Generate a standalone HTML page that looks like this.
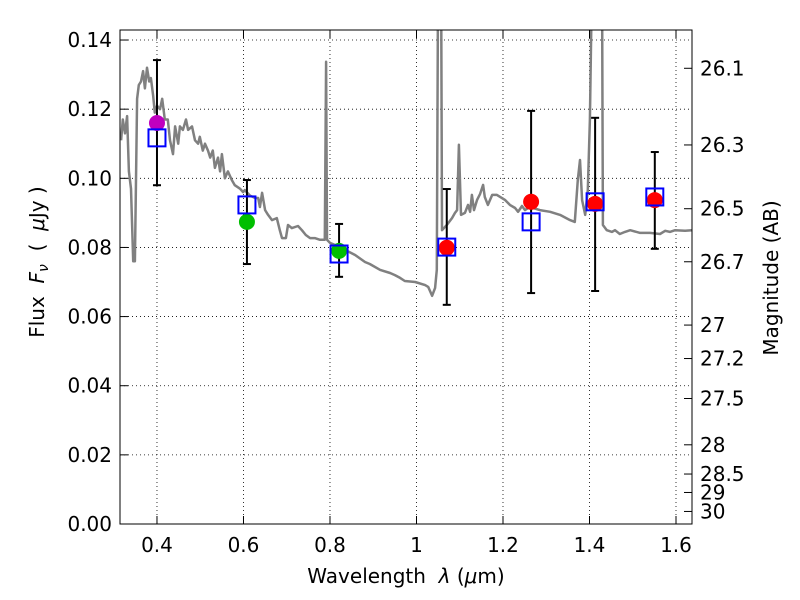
<!DOCTYPE html>
<html><head><meta charset="utf-8"><style>body{margin:0;background:#fff}svg{display:block;font-family:"DejaVu Sans","Liberation Sans",sans-serif}</style></head>
<body>
<svg id="chart" width="800" height="600" xmlns="http://www.w3.org/2000/svg">
<defs><clipPath id="clip"><rect x="120" y="30" width="572" height="494"/></clipPath></defs>
<rect x="0" y="0" width="800" height="600" fill="#fff"/>
<g id="grid"></g>
<g id="spec" clip-path="url(#clip)"></g>
<g id="phot"></g>
<rect x="120" y="30" width="572" height="494" fill="none" stroke="#000" stroke-width="1"/>
<g id="axes"></g>
<text x="406" y="583" font-size="20" text-anchor="middle" xml:space="preserve">Wavelength  <tspan font-style="italic">λ</tspan> (<tspan font-style="italic">μ</tspan>m)</text>
<text transform="translate(44,262) rotate(-90)" font-size="20" text-anchor="middle" xml:space="preserve">Flux  <tspan font-style="italic">F</tspan><tspan font-style="italic" font-size="14" dy="4">ν</tspan><tspan dy="-4">  (  </tspan><tspan font-style="italic">μ</tspan>Jy )</text>
<text transform="translate(778,278) rotate(-90)" font-size="20" text-anchor="middle">Magnitude (AB)</text>
</svg>
<script>
const specLam=[0.317,0.321,0.326,0.331,0.335,0.340,0.345,0.349,0.354,0.358,0.363,0.368,0.372,0.377,0.382,0.386,0.391,0.395,0.400,0.407,0.412,0.418,0.425,0.430,0.437,0.442,0.449,0.453,0.460,0.467,0.472,0.481,0.488,0.495,0.499,0.506,0.511,0.518,0.523,0.529,0.534,0.541,0.546,0.550,0.557,0.564,0.573,0.580,0.592,0.599,0.603,0.615,0.627,0.634,0.638,0.643,0.650,0.657,0.666,0.677,0.684,0.689,0.698,0.703,0.712,0.726,0.735,0.744,0.754,0.765,0.777,0.781,0.788,0.791,0.793,0.800,0.812,0.835,0.858,0.881,0.892,0.916,0.939,0.950,0.962,0.973,0.997,1.020,1.027,1.036,1.043,1.047,1.050,1.057,1.059,1.070,1.082,1.089,1.094,1.098,1.103,1.112,1.119,1.124,1.128,1.133,1.140,1.147,1.154,1.158,1.165,1.175,1.186,1.205,1.216,1.228,1.235,1.244,1.251,1.262,1.285,1.309,1.332,1.355,1.366,1.373,1.378,1.383,1.390,1.396,1.401,1.406,1.429,1.431,1.440,1.452,1.459,1.470,1.482,1.494,1.517,1.540,1.563,1.575,1.586,1.598,1.621,1.637];
const specFlux=[0.111,0.117,0.113,0.118,0.102,0.097,0.076,0.076,0.123,0.127,0.128,0.131,0.126,0.132,0.128,0.129,0.124,0.119,0.121,0.120,0.123,0.117,0.117,0.111,0.107,0.115,0.110,0.115,0.114,0.117,0.114,0.115,0.111,0.110,0.112,0.108,0.110,0.108,0.106,0.108,0.103,0.106,0.102,0.107,0.100,0.102,0.0995,0.098,0.097,0.096,0.0966,0.095,0.0943,0.0943,0.0917,0.0958,0.0908,0.0894,0.0879,0.0885,0.085,0.0827,0.0827,0.0865,0.0856,0.0862,0.085,0.0836,0.0827,0.0827,0.0822,0.0822,0.0822,0.1337,0.0822,0.0813,0.0807,0.0793,0.0778,0.0758,0.0752,0.0735,0.0726,0.072,0.0712,0.0703,0.070,0.0691,0.0686,0.066,0.0683,0.0735,0.16,0.16,0.085,0.0865,0.0885,0.090,0.0908,0.1097,0.0894,0.090,0.0923,0.0903,0.0952,0.0908,0.0937,0.0955,0.0981,0.0946,0.0923,0.0952,0.0952,0.0937,0.0923,0.0914,0.0903,0.092,0.0908,0.0917,0.0908,0.0903,0.0894,0.0879,0.0874,0.0995,0.1053,0.0937,0.0894,0.0966,0.117,0.16,0.16,0.0865,0.085,0.0845,0.085,0.0839,0.0845,0.085,0.0842,0.0842,0.0839,0.0848,0.0845,0.085,0.0848,0.085];
const photLam=[0.400,0.608,0.821,1.070,1.265,1.413,1.551];
const photFlux=[0.116,0.0874,0.079,0.0799,0.0932,0.0926,0.0937];
const photColor=["#bf00bf","#00bf00","#00bf00","#ff0000","#ff0000","#ff0000","#ff0000"];
const modelFlux=[0.1117,0.0923,0.0781,0.0801,0.0874,0.0932,0.0946];
const errHi=[0.1342,0.0995,0.0868,0.0969,0.1195,0.1175,0.1076];
const errLo=[0.098,0.0752,0.0715,0.0634,0.0668,0.0674,0.0796];
const xTicks=[0.4,0.6,0.8,1.0,1.2,1.4,1.6];
const xTickLabels=["0.4","0.6","0.8","1","1.2","1.4","1.6"];
const yTicks=[0,0.02,0.04,0.06,0.08,0.10,0.12,0.14];
const yTickLabels=["0.00","0.02","0.04","0.06","0.08","0.10","0.12","0.14"];
const magTicks=[26.1,26.3,26.5,26.7,27,27.2,27.5,28,28.5,29,30];

const NS="http://www.w3.org/2000/svg";
const X0=120,X1=692,Y0=524,Y1=30,LMIN=0.3145,LMAX=1.637,FMIN=0,FMAX=0.1429;
const xs=v=>X0+(v-LMIN)/(LMAX-LMIN)*(X1-X0);
const ys=v=>Y0-(v-FMIN)/(FMAX-FMIN)*(Y0-Y1);
const magToFlux=m=>Math.pow(10,-0.4*(m-23.9));
function mk(tag,attrs,parent){const e=document.createElementNS(NS,tag);for(const k in attrs)e.setAttribute(k,attrs[k]);parent.appendChild(e);return e;}
const grid=document.getElementById('grid'),spec=document.getElementById('spec'),phot=document.getElementById('phot'),axes=document.getElementById('axes');

xTicks.forEach((t,i)=>{const x=xs(t);
 let g=mk('line',{x1:x,x2:x,y1:Y1,y2:Y0,stroke:'#000','stroke-width':0.8,'stroke-dasharray':'1,3'},grid);
 
 
 let a=mk('line',{x1:x,x2:x,y1:Y0,y2:Y0-8,stroke:'#000'},axes);
 
 
 let b=mk('line',{x1:x,x2:x,y1:Y1,y2:Y1+8,stroke:'#000'},axes);
 
 
 let t2=mk('text',{x:x,y:552,'font-size':20,'text-anchor':'middle'},axes);t2.textContent=xTickLabels[i];
 
 
});
yTicks.forEach((t,i)=>{const y=ys(t);
 let g=mk('line',{x1:X0,x2:X1,y1:y,y2:y,stroke:'#000','stroke-width':0.8,'stroke-dasharray':'1,3'},grid);
 
 
 let a=mk('line',{x1:X0,x2:X0+8,y1:y,y2:y,stroke:'#000'},axes);
 
 
 let t2=mk('text',{x:112,y:y+7,'font-size':20,'text-anchor':'end'},axes);t2.textContent=yTickLabels[i];
 
 
});
magTicks.forEach(m=>{const y=ys(magToFlux(m));
 let a=mk('line',{x1:X1,x2:X1-8,y1:y,y2:y,stroke:'#000'},axes);
 
 
 let t2=mk('text',{x:700,y:y+7,'font-size':20},axes);t2.textContent=String(m);
 
 
});
const d=specLam.map((l,i)=>(i?'L':'M')+xs(l).toFixed(1)+','+ys(specFlux[i]).toFixed(1)).join('');
const sp=mk('path',{d:d,fill:'none',stroke:'#808080','stroke-width':2.5,'stroke-linejoin':'round'},spec);


photLam.forEach((l,i)=>{const x=xs(l);
 let e=mk('line',{x1:x,x2:x,y1:ys(errHi[i]),y2:ys(errLo[i]),stroke:'#000','stroke-width':2},phot);
 
 
 [errHi[i],errLo[i]].forEach(v=>{let c=mk('line',{x1:x-4,x2:x+4,y1:ys(v),y2:ys(v),stroke:'#000','stroke-width':2},phot);
  
  });
 let c=mk('circle',{cx:x,cy:ys(photFlux[i]),r:8,fill:photColor[i]},phot);
 
 
 let s=mk('rect',{x:x-8.5,y:ys(modelFlux[i])-8.5,width:17,height:17,fill:'none',stroke:'#0000ff','stroke-width':2},phot);
 
 
});
</script>
</body></html>
